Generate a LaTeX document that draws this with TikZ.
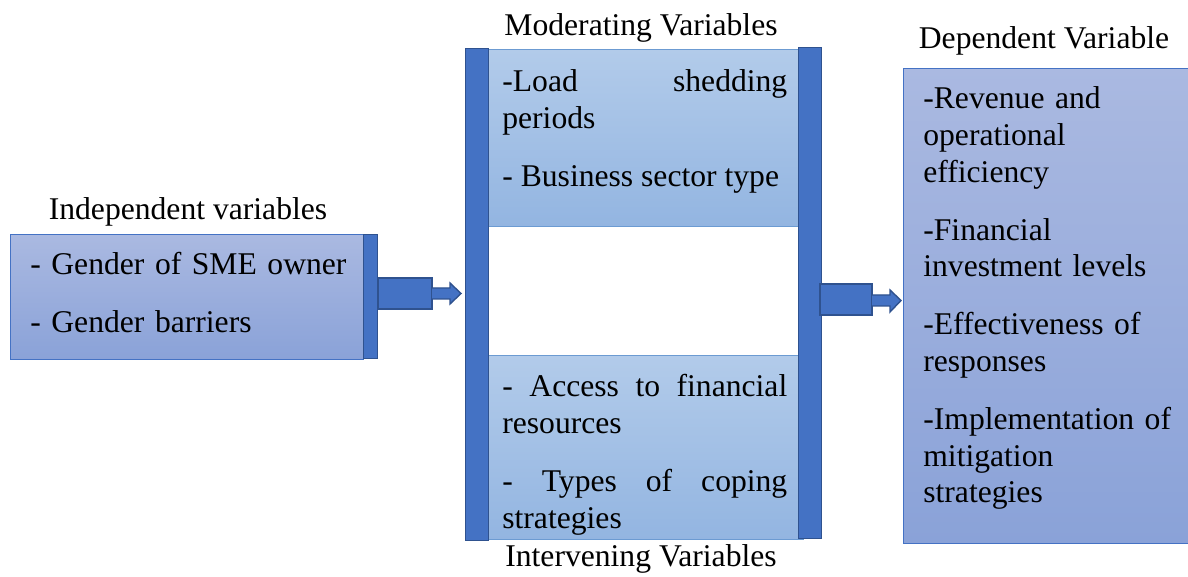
\documentclass[tikz,border=0pt]{standalone}
\usepackage{fontspec}
\setmainfont{Liberation Serif}
\definecolor{barblue}{HTML}{4472C4}
\definecolor{baredge}{HTML}{2F528F}
\definecolor{boxtop}{HTML}{AAB9E1}
\definecolor{boxbot}{HTML}{8AA2D8}
\definecolor{modtop}{HTML}{B2CBEA}
\definecolor{modbot}{HTML}{93B5E1}
\definecolor{modedge}{HTML}{6C9BD2}
\begin{document}
\begin{tikzpicture}
[x=0.02cm, y=-0.02cm,
 every node/.style={font=\fontsize{18}{20.9}\selectfont, inner sep=0pt},
 varbox/.style={draw=barblue, top color=boxtop, bottom color=boxbot, line width=0.6pt, anchor=north west},
 modbox/.style={draw=modedge, top color=modtop, bottom color=modbot, line width=0.5pt, anchor=north west},
 bar/.style={draw=baredge, fill=barblue, line width=0.8pt},
 txt/.style={anchor=base west, text width=6.6cm, align=left},
 jtxt/.style={anchor=base west, text width=5.7cm, align=justify},
 head/.style={anchor=base}]
\clip (0,0) rectangle (1188,577);
\node[varbox, minimum width=7.06cm, minimum height=2.5cm] (indep) at (10,234) {};
\node[bar, anchor=north west, minimum width=0.28cm, minimum height=2.48cm] (indepbar) at (363,234) {};
\node[head] (indephead) at (188,220) {Independent variables};
\node[txt] (indeptext) at (30,275) {- Gender of SME owner\\[12pt]- Gender barriers};
\node[modbox, minimum width=6.2cm, minimum height=3.54cm] (moder) at (488,49) {};
\node[modbox, minimum width=6.3cm, minimum height=3.68cm] (inter) at (488,355) {};
\node[bar, anchor=north west, minimum width=0.46cm, minimum height=9.84cm] (leftbar) at (465,48) {};
\node[bar, anchor=north west, minimum width=0.46cm, minimum height=9.82cm] (rightbar) at (798,47) {};
\node[head] (moderhead) at (641,36) {Moderating Variables};
\node[head] (interhead) at (641,567) {Intervening Variables};
\node[jtxt] (modertext) at (502,92) {-Load\hfill shedding\\periods\\[12pt]- Business sector type};
\node[jtxt] (intertext) at (502,397) {-\hfill Access\hfill to\hfill financial\\resources\\[12pt]-\hfill Types\hfill of\hfill coping\\strategies};
\node[varbox, minimum width=5.84cm, minimum height=9.5cm] (dep) at (903,68) {};
\node[head] (dephead) at (1044,49) {Dependent Variable};
\node[txt] (deptext) at (923,109) {-Revenue and\\operational\\efficiency\\[12pt]-Financial\\investment levels\\[12pt]-Effectiveness of\\responses\\[12pt]-Implementation of\\mitigation\\strategies};
\draw[bar] (378,278) rectangle (432,309);
\draw[bar] (432,288) -- (450,288) -- (450,283) -- (461,293.5) -- (450,304) -- (450,299) -- (432,299);
\draw[bar] (820,284) rectangle (872,315);
\draw[bar] (872,295) -- (890,295) -- (890,290) -- (901,300.5) -- (890,312) -- (890,306) -- (872,306);
\end{tikzpicture}
\end{document}
